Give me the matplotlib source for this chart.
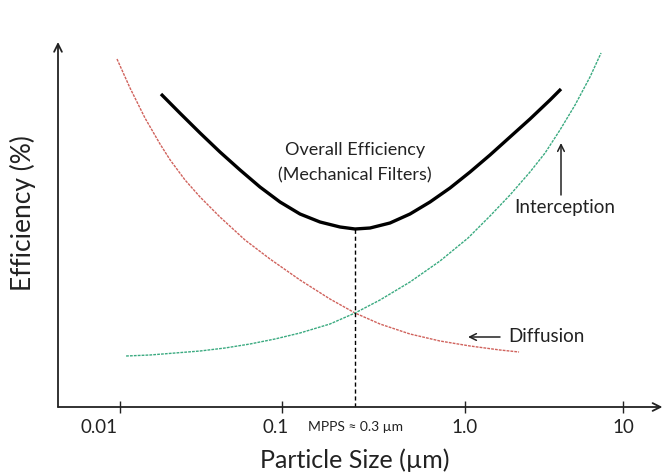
import numpy as np
import matplotlib
matplotlib.use("Agg")
import matplotlib.pyplot as plt
from matplotlib.transforms import ScaledTranslation

plt.rcParams['font.family'] = ['Lato', 'DejaVu Sans']

# ---- data (particle size in µm, efficiency in arbitrary units) ----
diff_x = [0.00958, 0.01153, 0.01426, 0.01766, 0.0204, 0.0252, 0.0312, 0.0414, 0.0591, 0.0843,
          0.1254, 0.1828, 0.2506, 0.343, 0.5004, 0.730, 1.076, 1.665, 2.197]
diff_y = [348, 319, 289, 263, 247, 227, 210, 190, 167, 148,
          127, 108, 94, 83, 73, 66, 61, 57, 55]

inter_x = [0.0109, 0.0153, 0.0219, 0.0312, 0.0445, 0.0634, 0.0905, 0.1254, 0.1828, 0.2506, 0.343,
           0.5004, 0.730, 1.045, 1.439, 1.926, 2.578, 3.21, 3.99, 4.97, 6.18, 7.26]
inter_y = [51, 52, 54, 56, 59, 63, 68, 74, 83, 94, 107,
           125, 146, 169, 191, 212, 235, 254, 277, 302, 330, 354]

overall_x = [0.0179, 0.0234, 0.0312, 0.0414, 0.0551, 0.0731, 0.0972, 0.1254, 0.1613, 0.2075, 0.2506,
             0.3027, 0.389, 0.5004, 0.6437, 0.828, 1.076, 1.439, 1.926, 2.578, 3.451, 4.05]
overall_y = [313, 294, 274, 255, 237, 220, 205, 193, 185, 180, 178,
             179, 184, 193, 205, 219, 235, 252, 270, 288, 307, 318]

mpps_x = 0.2506
mpps_y = 178

tick_vals = [0.01, 0.1, 1.0, 10]
tick_labels = ["0.01", "0.1", "1.0", "10"]

# hand-drawn (non-uniform) log axis of the reference
L = np.array([-2.0, -1.0, 0.0, 1.0])
P = np.array([0.0, 162.0, 345.0, 503.0])


def fwd(x):
    lx = np.log10(np.clip(np.asarray(x, float), 1e-12, None))
    y = np.interp(lx, L, P)
    y = np.where(lx < L[0], P[0] + (lx - L[0]) * (P[1] - P[0]), y)
    y = np.where(lx > L[-1], P[-1] + (lx - L[-1]) * (P[-1] - P[-2]), y)
    return y


def inv(p):
    p = np.asarray(p, float)
    lx = np.interp(p, P, L)
    lx = np.where(p < P[0], L[0] + (p - P[0]) / (P[1] - P[0]), lx)
    lx = np.where(p > P[-1], L[-1] + (p - P[-1]) / (P[-1] - P[-2]), lx)
    return 10 ** lx


fig = plt.figure(figsize=(6.62, 4.73), dpi=100)
ax = fig.add_axes([58 / 662, 1 - 407 / 473, (660 - 58) / 662, (407 - 42) / 473])
ax.set_xscale('function', functions=(fwd, inv))
ax.set_xlim(0.004142, 17.14)
ax.set_ylim(0, 365)

red = '#d0625c'
green = '#3aaa80'
ink = '#222222'

ax.plot(diff_x, diff_y, color=red, lw=1.0, ls=(0, (2, 0.8)))
ax.plot(inter_x, inter_y, color=green, lw=1.0, ls=(0, (2, 0.8)))
ax.plot(overall_x, overall_y, color='black', lw=2.4, solid_capstyle='butt', solid_joinstyle='round')
ax.plot([mpps_x, mpps_x], [0, mpps_y], color='black', lw=1.0, ls=(0, (3, 2)))

for s in ax.spines.values():
    s.set_visible(False)

# axis lines with arrows
arrow_kw = dict(arrowstyle='->', color=ink, lw=1.3, mutation_scale=14, shrinkA=0, shrinkB=0)
ax.annotate('', xy=(0, 1), xytext=(0, 0), xycoords='axes fraction', arrowprops=arrow_kw, annotation_clip=False)
ax.annotate('', xy=(1.004, 0), xytext=(0, 0), xycoords='axes fraction', arrowprops=arrow_kw, annotation_clip=False)

ax.set_yticks([])
ax.set_xticks(tick_vals)
ax.set_xticklabels(tick_labels, fontsize=13.5, color=ink)
ax.xaxis.set_minor_locator(plt.NullLocator())
ax.tick_params(axis='x', direction='inout', length=9, width=1, color=ink, pad=4)
offs = [-21, -6, 0, 0]
for lab, o in zip(ax.get_xticklabels(), offs):
    lab.set_transform(lab.get_transform() + ScaledTranslation(o / 100, 0, fig.dpi_scale_trans))

ax.text(mpps_x, -20, "MPPS ≈ 0.3 µm", ha='center', va='center', fontsize=10, color=ink)
ax.text(mpps_x, -53, "Particle Size (µm)", ha='center', va='center', fontsize=18, color=ink)
fig.text(23 / 662, 1 - 213 / 473, "Efficiency (%)", rotation=90, ha='center', va='center', fontsize=19, color=ink)

ax.text(mpps_x, 257, "Overall Efficiency", ha='center', va='center', fontsize=13, color=ink)
ax.text(mpps_x, 232, "(Mechanical Filters)", ha='center', va='center', fontsize=13, color=ink)

ax.annotate('', xy=(4.05, 264), xytext=(4.05, 212),
            arrowprops=dict(arrowstyle='->', color=ink, lw=1.1, mutation_scale=12, shrinkA=0, shrinkB=0))
ax.text(4.29, 199, "Interception", ha='center', va='center', fontsize=13.5, color=ink)

ax.annotate('', xy=(1.045, 70), xytext=(1.665, 70),
            arrowprops=dict(arrowstyle='->', color=ink, lw=1.1, mutation_scale=12, shrinkA=0, shrinkB=0))
ax.text(1.872, 70, "Diffusion", ha='left', va='center', fontsize=13.5, color=ink)

fig.savefig('out.png', dpi=100)
